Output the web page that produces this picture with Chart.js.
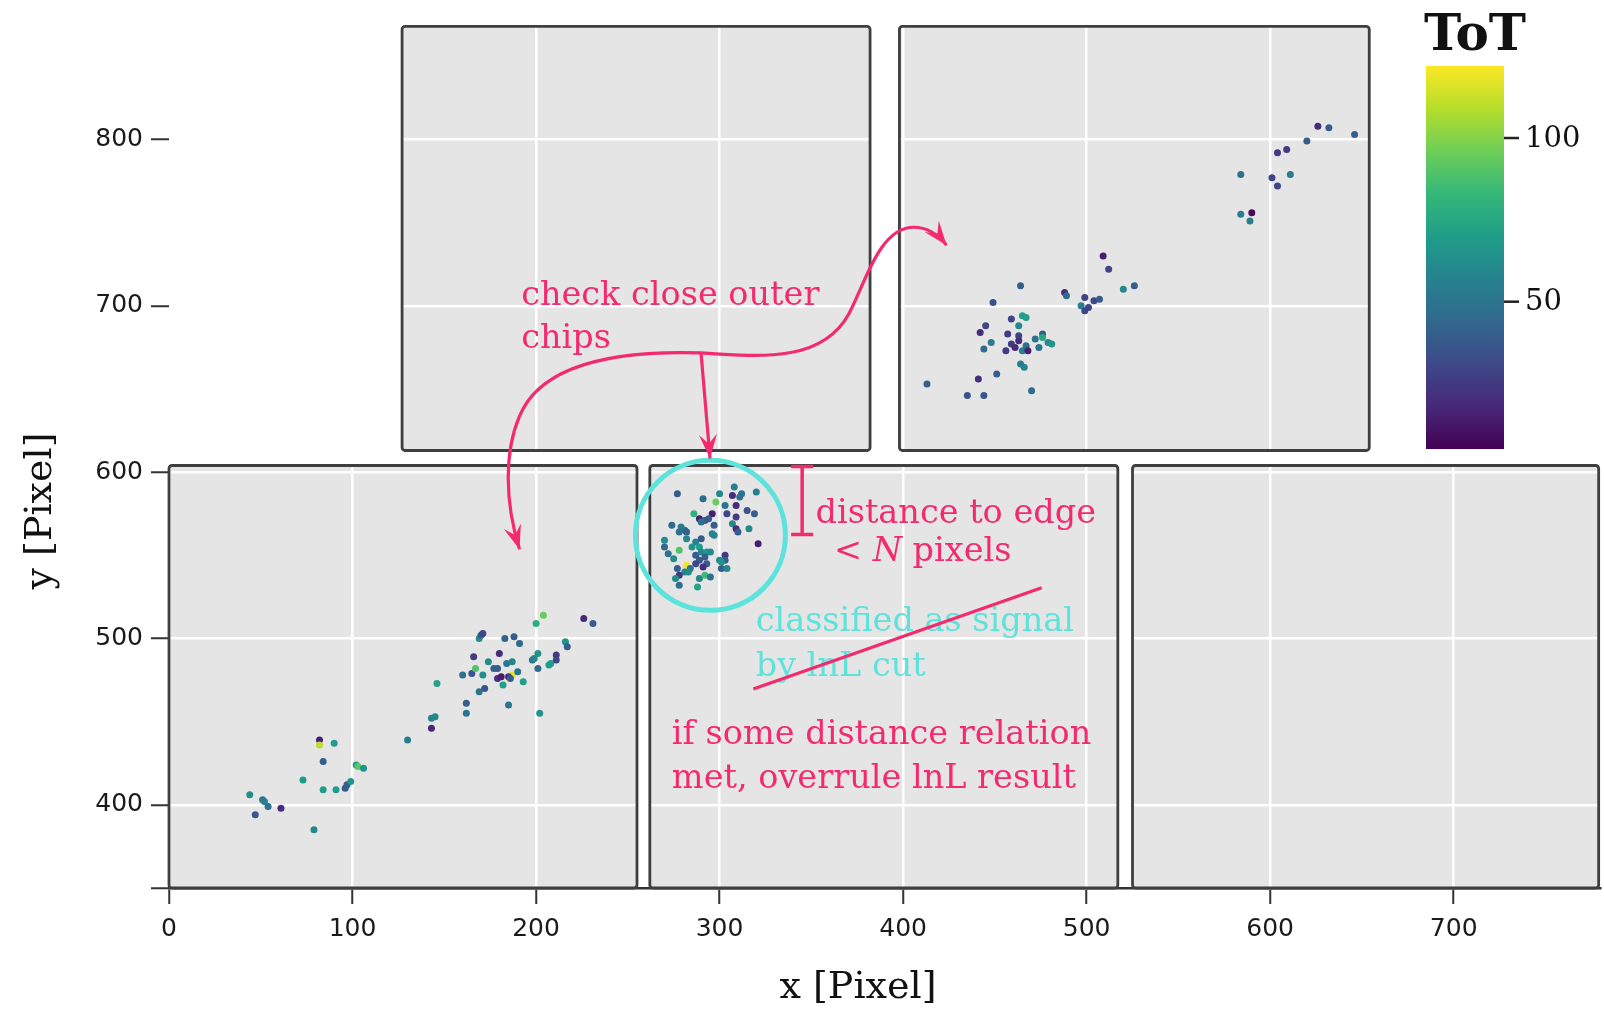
<!DOCTYPE html>
<html lang="en">
<head>
<meta charset="UTF-8" />
<title>Septemboard event</title>
<script src="https://cdn.jsdelivr.net/npm/chart.js@4"></script>
<style>
  html, body { margin: 0; padding: 0; background: #ffffff; }
  #wrap { width: 1604px; height: 1015px; position: relative; }
</style>
</head>
<body>
<div id="wrap"><canvas id="chart"></canvas></div>
<script>
// hits on the lower left chip
const xA = [44, 47, 51, 52, 54, 61, 79, 73, 82, 82, 90, 84, 84, 91, 96, 97, 99, 102, 103, 106,
  130, 143, 143, 145, 146, 162, 162, 160, 165, 167, 166, 169, 170, 171, 171, 169, 172, 174, 180, 177,
  179, 183, 188, 191, 184, 187, 187, 179, 181, 185, 186, 190, 182, 193, 185, 202, 198, 199, 201, 201,
  200, 204, 207, 208, 211, 211, 216, 217, 226, 231];
const yA = [406, 394, 403, 402, 399, 398, 385, 415, 439, 436, 437, 426, 409, 409, 410, 412, 414, 424, 423, 422,
  439, 446, 452, 453, 473, 461, 455, 478, 479, 482, 489, 500, 502, 503, 478, 468, 470, 486, 491, 482,
  482, 500, 501, 497, 485, 486, 478, 476, 477, 477, 476, 480, 472, 474, 460, 455, 487, 488, 491, 482,
  509, 514, 484, 485, 490, 487, 498, 495, 512, 509];
const totA = [63, 36, 50, 55, 48, 20, 60, 68, 15, 110, 70, 40, 70, 70, 38, 40, 66, 70, 92, 66,
  55, 18, 58, 60, 72, 40, 50, 50, 35, 90, 25, 65, 40, 30, 62, 50, 35, 62, 20, 42,
  40, 42, 40, 45, 52, 58, 118, 22, 14, 22, 40, 50, 70, 70, 50, 65, 50, 58, 65, 45,
  78, 95, 70, 70, 25, 30, 65, 40, 20, 40];

// hits on the lower middle chip (inside the circle)
const xB = [277, 291, 300, 308, 307, 312, 311, 320, 298, 303, 309, 315, 319, 304, 309, 296, 294, 286, 289, 292,
  290, 297, 307, 309, 310, 316, 321, 274, 279, 281, 282, 278, 282, 296, 297, 270, 270, 272, 275, 278,
  285, 287, 290, 289, 287, 290, 293, 295, 292, 289, 287, 303, 303, 300, 293, 291, 282, 284, 277, 281,
  278, 283, 276, 278, 289, 292, 295, 288, 301, 304, 301];
const yB = [587, 584, 587, 591, 586, 587, 585, 588, 582, 580, 580, 577, 575, 575, 573, 575, 572, 575, 572, 571,
  570, 568, 569, 566, 564, 566, 557, 568, 567, 565, 564, 564, 560, 563, 562, 559, 555, 551, 548, 553,
  555, 558, 560, 555, 550, 552, 552, 552, 549, 547, 545, 550, 547, 547, 545, 543, 544, 542, 542, 540,
  538, 540, 536, 532, 536, 538, 537, 531, 542, 542, 546];
const totB = [40, 45, 60, 55, 20, 50, 48, 55, 95, 50, 20, 35, 40, 30, 25, 15, 40, 80, 15, 38,
  48, 40, 60, 20, 38, 60, 15, 45, 55, 50, 40, 48, 60, 60, 58, 62, 45, 48, 62, 90,
  66, 58, 40, 70, 40, 58, 70, 60, 40, 38, 30, 25, 40, 60, 38, 20, 120, 50, 40, 58,
  25, 60, 62, 48, 60, 85, 50, 72, 40, 60, 66];

// hits on the upper right chip
const xE = [626, 632, 646, 620, 604, 609, 584, 601, 611, 604, 584, 590, 589, 509, 512, 520, 526, 488, 489, 499,
  497, 499, 501, 504, 507, 464, 449, 445, 442, 459, 465, 467, 463, 457, 463, 463, 459, 461, 448, 444,
  456, 465, 467, 468, 472, 476, 476, 474, 479, 481, 464, 466, 451, 441, 413, 435, 444, 470];
const yE = [808, 807, 803, 799, 792, 794, 779, 777, 779, 772, 755, 756, 751, 730, 722, 710, 712, 708, 706, 705,
  700, 697, 699, 703, 704, 712, 702, 688, 684, 692, 694, 693, 688, 683, 682, 679, 677, 675, 678, 674,
  673, 673, 676, 673, 680, 683, 681, 675, 678, 677, 665, 663, 659, 656, 653, 646, 646, 649];
const totE = [20, 40, 40, 40, 25, 25, 50, 30, 55, 30, 55, 8, 55, 15, 30, 60, 40, 20, 45, 30,
  55, 30, 30, 30, 38, 40, 35, 30, 20, 30, 72, 70, 60, 25, 30, 20, 25, 20, 55, 45,
  25, 55, 48, 15, 50, 40, 75, 50, 60, 66, 55, 58, 40, 20, 40, 35, 35, 45];

// chip outlines in pixel coordinates
const chipX0 = [0, 262, 525, 127, 398];
const chipX1 = [255, 517, 779, 382, 654];
const chipY0 = [350, 350, 350, 613, 613];
const chipY1 = [604, 604, 604, 868, 868];

const xTicks = [0, 100, 200, 300, 400, 500, 600, 700];
const yTicks = [350, 400, 500, 600, 700, 800];
const totRange = [5, 122];
const totTicks = [50, 100];

// annotation texts
const outerText = ["check close outer", "chips"];
const edgeText = ["distance to edge", "< N pixels"];
const signalText = ["classified as signal", "by lnL cut"];
const overruleText = ["if some distance relation", "met, overrule lnL result"];

// annotation geometry in data units
const arrowLeft = [[289.9, 671.7], [239.9, 673.5], [201.8, 663.3], [190.9, 633.4], [182.8, 612.4], [182.8, 582.4], [191.0, 553.7]];
const arrowRight = [[289.9, 671.7], [326.9, 668.7], [356.6, 667.5], [370.4, 695.1], [379.1, 712.3], [386.7, 747.2], [405.8, 747.2], [413.9, 747.2], [419.4, 742.4], [423.7, 736.4]];
const arrowDown = [[289.9, 671.7], [294.8, 608.2]];
const circleCenter = [295.0, 562.0];
const edgeBar = [345.0, 603.4, 562.5];
const strike = [[318.4, 469.6], [475.5, 530.5]];

const pink = "#f42a6e";
const cyan = "#5ee2dc";

const viridisStops = ["#440154", "#482878", "#3e4989", "#31688e", "#26828e",
  "#1f9e89", "#35b779", "#6ece58", "#b5de2b", "#fde725"];

function hexRgb(h) {
  return [parseInt(h.slice(1, 3), 16), parseInt(h.slice(3, 5), 16), parseInt(h.slice(5, 7), 16)];
}

function viridis(v) {
  let t = (v - totRange[0]) / (totRange[1] - totRange[0]);
  t = Math.max(0, Math.min(1, t));
  const p = t * (viridisStops.length - 1);
  const i = Math.min(Math.floor(p), viridisStops.length - 2);
  const f = p - i;
  const a = hexRgb(viridisStops[i]);
  const b = hexRgb(viridisStops[i + 1]);
  const c = a.map((k, j) => Math.round(k + (b[j] - k) * f));
  return `rgb(${c[0]}, ${c[1]}, ${c[2]})`;
}

const allX = xA.concat(xB, xE);
const allY = yA.concat(yB, yE);
const allToT = totA.concat(totB, totE);

function drawArrowHead(ctx, tip, from, len, half) {
  const a = Math.atan2(tip[1] - from[1], tip[0] - from[0]);
  ctx.save();
  ctx.translate(tip[0], tip[1]);
  ctx.rotate(a);
  ctx.beginPath();
  ctx.moveTo(0, 0);
  ctx.lineTo(-len, -half);
  ctx.lineTo(-len * 0.62, 0);
  ctx.lineTo(-len, half);
  ctx.closePath();
  ctx.fill();
  ctx.restore();
}

const overlay = {
  id: "overlay",
  beforeDraw(chart) {
    const { ctx, scales: { x, y } } = chart;
    ctx.save();
    ctx.fillStyle = "#e5e5e5";
    for (let i = 0; i < chipX0.length; i++) {
      const l = x.getPixelForValue(chipX0[i]);
      const r = x.getPixelForValue(chipX1[i]);
      const t = y.getPixelForValue(chipY1[i]);
      const b = y.getPixelForValue(chipY0[i]);
      ctx.fillRect(l, t, r - l, b - t);
    }
    ctx.restore();
  },
  beforeDatasetsDraw(chart) {
    const { ctx, scales: { x, y } } = chart;
    ctx.save();
    ctx.strokeStyle = "#3f3f3f";
    ctx.lineWidth = 2.8;
    for (let i = 0; i < chipX0.length; i++) {
      const l = x.getPixelForValue(chipX0[i]);
      const r = x.getPixelForValue(chipX1[i]);
      const t = y.getPixelForValue(chipY1[i]);
      const b = y.getPixelForValue(chipY0[i]);
      ctx.beginPath();
      if (ctx.roundRect) ctx.roundRect(l, t, r - l, b - t, 3);
      else ctx.rect(l, t, r - l, b - t);
      ctx.stroke();
    }
    ctx.restore();
  },
  afterDatasetsDraw(chart) {
    const { ctx, scales: { x, y } } = chart;
    const P = (p) => [x.getPixelForValue(p[0]), y.getPixelForValue(p[1])];
    ctx.save();

    // cyan circle around the signal-like cluster
    const cc = P(circleCenter);
    ctx.strokeStyle = cyan;
    ctx.lineWidth = 5;
    ctx.beginPath();
    ctx.arc(cc[0], cc[1], 75, 0, Math.PI * 2);
    ctx.stroke();

    // arrows
    ctx.strokeStyle = pink;
    ctx.fillStyle = pink;
    ctx.lineWidth = 3.2;
    const curve = (pts) => {
      const q = pts.map(P);
      ctx.beginPath();
      ctx.moveTo(q[0][0], q[0][1]);
      for (let i = 1; i + 2 < q.length; i += 3) {
        ctx.bezierCurveTo(q[i][0], q[i][1], q[i + 1][0], q[i + 1][1], q[i + 2][0], q[i + 2][1]);
      }
      ctx.stroke();
      drawArrowHead(ctx, q[q.length - 1], q[q.length - 2], 24, 9);
    };
    curve(arrowLeft);
    curve(arrowRight);
    const d0 = P(arrowDown[0]);
    const d1 = P(arrowDown[1]);
    ctx.beginPath();
    ctx.moveTo(d0[0], d0[1]);
    ctx.lineTo(d1[0], d1[1]);
    ctx.stroke();
    drawArrowHead(ctx, d1, d0, 24, 9);

    // distance bar
    const bt = P([edgeBar[0], edgeBar[1]]);
    const bb = P([edgeBar[0], edgeBar[2]]);
    ctx.lineWidth = 3.5;
    ctx.beginPath();
    ctx.moveTo(bt[0], bt[1]); ctx.lineTo(bb[0], bb[1]);
    ctx.moveTo(bt[0] - 11, bt[1]); ctx.lineTo(bt[0] + 11, bt[1]);
    ctx.moveTo(bb[0] - 11, bb[1]); ctx.lineTo(bb[0] + 11, bb[1]);
    ctx.stroke();

    // texts
    const serif = "'DejaVu Serif', 'Liberation Serif', serif";
    const fs = 33.5;
    ctx.font = `${fs}px ${serif}`;
    ctx.textBaseline = "alphabetic";
    ctx.textAlign = "left";
    ctx.fillStyle = pink;
    let p = P([191.9, 700.4]);
    ctx.fillText(outerText[0], p[0], p[1]);
    ctx.fillText(outerText[1], p[0], p[1] + 43);

    p = P([352.3, 569.2]);
    ctx.fillText(edgeText[0], p[0], p[1]);
    p = P([362.3, 546.5]);
    const parts = edgeText[1].split("N");
    ctx.fillText(parts[0], p[0], p[1]);
    let w = ctx.measureText(parts[0]).width;
    ctx.font = `italic ${fs}px ${serif}`;
    ctx.fillText("N", p[0] + w, p[1]);
    w += ctx.measureText("N").width;
    ctx.font = `${fs}px ${serif}`;
    ctx.fillText(parts[1], p[0] + w, p[1]);

    ctx.fillStyle = cyan;
    p = P([319.7, 504.6]);
    ctx.fillText(signalText[0], p[0], p[1]);
    ctx.fillText(signalText[1], p[0], p[1] + 45);

    ctx.fillStyle = pink;
    p = P([274.0, 436.7]);
    ctx.fillText(overruleText[0], p[0], p[1]);
    ctx.fillText(overruleText[1], p[0], p[1] + 44);

    // strike-through of the lnL classification
    const s0 = P(strike[0]);
    const s1 = P(strike[1]);
    ctx.strokeStyle = pink;
    ctx.lineWidth = 3.2;
    ctx.beginPath();
    ctx.moveTo(s0[0], s0[1]);
    ctx.lineTo(s1[0], s1[1]);
    ctx.stroke();
    ctx.restore();
  },
  afterDraw(chart) {
    const { ctx } = chart;
    const serif = "'DejaVu Serif', 'Liberation Serif', serif";
    ctx.save();

    // axis titles
    ctx.fillStyle = "#111111";
    ctx.font = `38px ${serif}`;
    ctx.textAlign = "center";
    ctx.textBaseline = "middle";
    ctx.fillText("x [Pixel]", 858, 988);
    ctx.save();
    ctx.translate(41, 511);
    ctx.rotate(-Math.PI / 2);
    ctx.fillText("y [Pixel]", 0, 0);
    ctx.restore();

    // colour bar for ToT
    const cbL = 1426, cbT = 66, cbW = 78, cbH = 383;
    const grad = ctx.createLinearGradient(0, cbT + cbH, 0, cbT);
    viridisStops.forEach((c, i) => grad.addColorStop(i / (viridisStops.length - 1), c));
    ctx.fillStyle = grad;
    ctx.fillRect(cbL, cbT, cbW, cbH);
    ctx.strokeStyle = "#222222";
    ctx.lineWidth = 2.5;
    ctx.fillStyle = "#111111";
    ctx.font = `29px ${serif}`;
    ctx.textAlign = "left";
    totTicks.forEach((v) => {
      const ty = cbT + cbH - (v - totRange[0]) / (totRange[1] - totRange[0]) * cbH;
      ctx.beginPath();
      ctx.moveTo(cbL + cbW, ty);
      ctx.lineTo(cbL + cbW + 15, ty);
      ctx.stroke();
      ctx.fillText(String(v), cbL + cbW + 21, ty + 1);
    });
    ctx.font = `bold 50px ${serif}`;
    ctx.textBaseline = "alphabetic";
    ctx.fillText("ToT", 1424, 50);
    ctx.restore();
  }
};

const ctx = document.getElementById("chart").getContext("2d");
new Chart(ctx, {
  type: "scatter",
  data: {
    datasets: [{
      label: "ToT",
      data: allX.map((v, i) => ({ x: v, y: allY[i] })),
      backgroundColor: allToT.map(viridis),
      borderWidth: 0,
      pointRadius: 3.5,
      pointHoverRadius: 3.5
    }]
  },
  options: {
    responsive: true,
    maintainAspectRatio: false,
    animation: false,
    events: [],
    layout: { padding: { top: 20, right: 1, left: 0, bottom: 0 } },
    plugins: {
      legend: { display: false },
      tooltip: { enabled: false }
    },
    scales: {
      x: {
        type: "linear",
        min: 0,
        max: 780,
        afterBuildTicks: (s) => { s.ticks = xTicks.map((v) => ({ value: v })); },
        afterFit: (s) => { s.height = 127; },
        ticks: {
          font: { family: "'DejaVu Sans', sans-serif", size: 25 },
          color: "#1a1a1a",
          padding: 10
        },
        grid: { color: "#ffffff", lineWidth: 2.5, tickColor: "#333333", tickLength: 16, tickWidth: 2 },
        border: { display: true, color: "#333333", width: 2.5 }
      },
      y: {
        type: "linear",
        min: 350,
        max: 870,
        afterBuildTicks: (s) => { s.ticks = yTicks.map((v) => ({ value: v })); },
        afterFit: (s) => { s.width = 169; },
        ticks: {
          font: { family: "'DejaVu Sans', sans-serif", size: 25 },
          color: "#1a1a1a",
          padding: 8,
          callback: (v) => (v === 350 ? "" : String(v))
        },
        grid: { color: "#ffffff", lineWidth: 2.5, tickColor: "#333333", tickLength: 18, tickWidth: 2 },
        border: { display: false }
      }
    }
  },
  plugins: [overlay]
});
</script>
</body>
</html>
